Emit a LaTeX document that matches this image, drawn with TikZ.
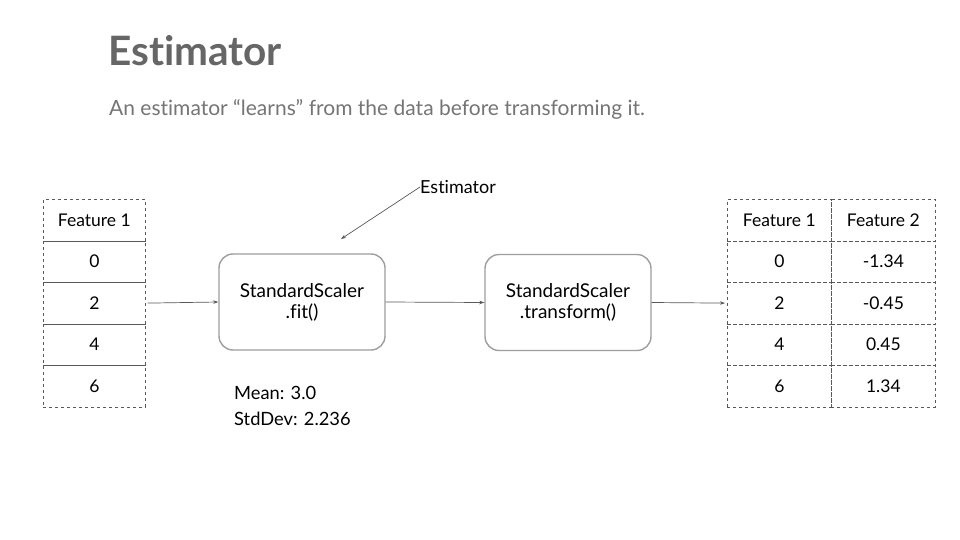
\documentclass[tikz,border=0pt]{standalone}
\usepackage{fontspec}
\setmainfont{Lato}[Ligatures={NoCommon}]
\usetikzlibrary{arrows.meta}
\definecolor{titlegray}{HTML}{666666}
\definecolor{subgray}{HTML}{757575}
\definecolor{boxgray}{HTML}{9E9E9E}
\definecolor{linegray}{HTML}{595959}
\begin{document}
\begin{tikzpicture}[x=1pt,y=-1pt,
  cell/.style={draw=linegray, dashed, line width=0.7pt, minimum height=41.5pt, inner sep=0pt, font=\fontsize{17.5}{20}\selectfont, text=black, anchor=north west},
  procbox/.style={draw=boxgray, line width=1.4pt, rounded corners=14pt, minimum width=166pt, minimum height=96pt, align=center, font=\fontsize{19}{21}\selectfont, text=black},
  conn/.style={draw=linegray, line width=0.7pt, -{Stealth[length=5pt,width=3.5pt]}},
  plain/.style={font=\fontsize{18.3}{26}\selectfont, text=black, inner sep=0pt, anchor=base west}
]
\useasboundingbox[fill=white] (0,0) rectangle (960,540);

\node[anchor=base west, inner sep=0pt, text=titlegray, font=\fontsize{40.5}{44}\bfseries\selectfont] (title) at (108,66) {Estimator};
\node[anchor=base west, inner sep=0pt, text=subgray, font=\fontsize{21}{24}\selectfont] (sub) at (109,116) {An estimator “learns” from the data before transforming it.};

% left table
\node[cell, minimum width=102pt] (l0) at (43,199) {Feature 1};
\node[cell, minimum width=102pt] (l1) at (43,240.5) {0};
\node[cell, minimum width=102pt] (l2) at (43,282) {2};
\node[cell, minimum width=102pt] (l3) at (43,323.5) {4};
\node[cell, minimum width=102pt] (l4) at (43,365) {6};

% right table
\node[cell, minimum width=104pt] (a0) at (727,199) {Feature 1};
\node[cell, minimum width=104pt] (a1) at (727,240.5) {0};
\node[cell, minimum width=104pt] (a2) at (727,282) {2};
\node[cell, minimum width=104pt] (a3) at (727,323.5) {4};
\node[cell, minimum width=104pt] (a4) at (727,365) {6};
\node[cell, minimum width=104pt] (b0) at (831,199) {Feature 2};
\node[cell, minimum width=104pt] (b1) at (831,240.5) {-1.34};
\node[cell, minimum width=104pt] (b2) at (831,282) {-0.45};
\node[cell, minimum width=104pt] (b3) at (831,323.5) {0.45};
\node[cell, minimum width=104pt] (b4) at (831,365) {1.34};

% boxes
\node[procbox] (fit) at (302,302) {StandardScaler\\.fit()};
\node[procbox] (tr) at (568,302.5) {StandardScaler\\.transform()};

% estimator label
\node[anchor=west, inner sep=0pt, font=\fontsize{18}{20}\selectfont, text=black] (est) at (420,187) {Estimator};
\coordinate (esttip) at (341,239);

\node[plain] (mean) at (234,399) {Mean: 3.0};
\node[plain] (std) at (234,425) {StdDev: 2.236};

% connectors
\draw[conn] ([xshift=2pt]l2.east) -- (fit.west);
\draw[conn] (fit.east) -- (tr.west);
\draw[conn] (tr.east) -- ([xshift=-2pt]a2.west);
\draw[conn] (est.west) -- (esttip);
\end{tikzpicture}
\end{document}
